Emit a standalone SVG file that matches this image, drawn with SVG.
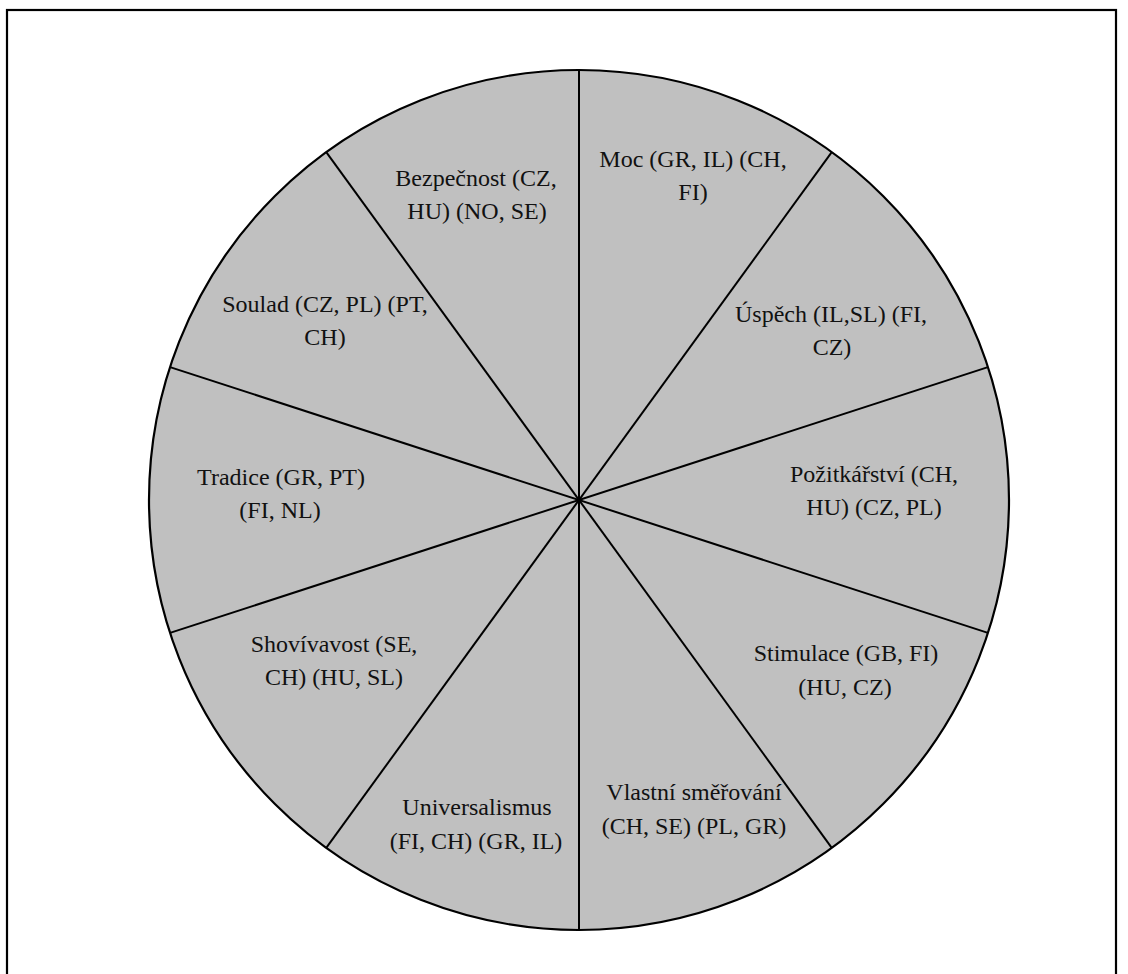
<svg xmlns="http://www.w3.org/2000/svg" width="1128" height="974" viewBox="0 0 1128 974">
<style>
.frame{fill:none;stroke:#000;stroke-width:2.2}
.disc{fill:#c0c0c0;stroke:#000;stroke-width:2.2}
.spoke{stroke:#000;stroke-width:2}
text{font-family:"Liberation Serif","Times New Roman",serif;font-size:24px;fill:#111;text-anchor:middle}
</style>
<rect width="1128" height="974" fill="#fff"/>
<rect class="frame" x="7" y="10" width="1109" height="1000"/>
<circle class="disc" cx="579" cy="500" r="430"/>
<g id="connectors">
<line class="spoke" x1="579" y1="70" x2="579" y2="930"/>
<line class="spoke" x1="831.75" y1="152.12" x2="326.25" y2="847.88"/>
<line class="spoke" x1="987.95" y1="367.12" x2="170.05" y2="632.88"/>
<line class="spoke" x1="987.95" y1="632.88" x2="170.05" y2="367.12"/>
<line class="spoke" x1="831.75" y1="847.88" x2="326.25" y2="152.12"/>
</g>
<g id="bezpecnost"><text x="476" y="186">Bezpečnost (CZ,</text><text x="477" y="219">HU) (NO, SE)</text></g>
<g id="moc"><text x="693" y="167">Moc (GR, IL) (CH,</text><text x="693" y="200">FI)</text></g>
<g id="soulad"><text x="325" y="312">Soulad (CZ, PL) (PT,</text><text x="325" y="345">CH)</text></g>
<g id="uspech"><text x="831" y="322">Úspěch (IL,SL) (FI,</text><text x="832" y="355">CZ)</text></g>
<g id="tradice"><text x="281" y="485">Tradice (GR, PT)</text><text x="280" y="518">(FI, NL)</text></g>
<g id="pozitkarstvi"><text x="874" y="482">Požitkářství (CH,</text><text x="874" y="515">HU) (CZ, PL)</text></g>
<g id="shovivavost"><text x="334" y="652">Shovívavost (SE,</text><text x="334" y="685">CH) (HU, SL)</text></g>
<g id="stimulace"><text x="846" y="661">Stimulace (GB, FI)</text><text x="845" y="695">(HU, CZ)</text></g>
<g id="universalismus"><text x="477" y="815">Universalismus</text><text x="476" y="849">(FI, CH) (GR, IL)</text></g>
<g id="vlastni"><text x="694" y="800">Vlastní směřování</text><text x="694" y="834">(CH, SE) (PL, GR)</text></g>
</svg>
